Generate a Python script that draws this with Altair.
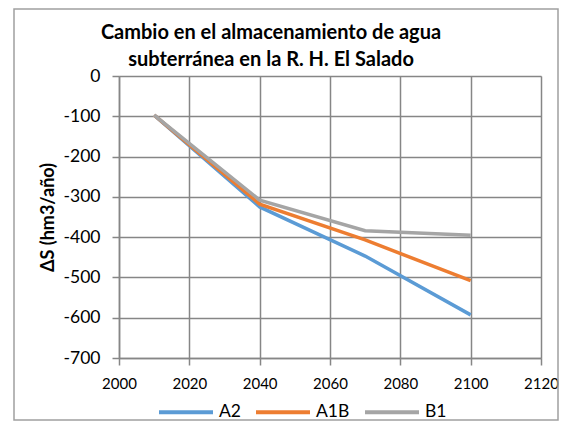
import altair as alt
import pandas as pd

years = [2010, 2040, 2070, 2100]
a2 = [-97, -325, -447, -593]
a1b = [-97, -318, -407, -508]
b1 = [-97, -308, -384, -395]
series = ["A2", "A1B", "B1"]
colors = ["#5B9BD5", "#ED7D31", "#A5A5A5"]

rows = []
for name, vals in zip(series, [a2, a1b, b1]):
    for y, v in zip(years, vals):
        rows.append({"year": y, "value": v, "serie": name})
df = pd.DataFrame(rows)

FONT = "Lato"
GRID = "#868686"

lines = alt.Chart(df).mark_line(strokeWidth=3.5, clip=False).encode(
    x=alt.X("year:Q", scale=alt.Scale(domain=[2000, 2120], nice=False),
            axis=alt.Axis(values=list(range(2000, 2121, 20)), title=None, format="d",
                          labelFlush=False, labelOverlap=False,
                          grid=True, gridColor=GRID, gridWidth=1.5,
                          domainColor=GRID, domainWidth=1.5, tickColor=GRID, tickWidth=1.5,
                          tickSize=7, labelPadding=11, labelFontSize=15, labelColor="#000",
                          labelFont=FONT)),
    y=alt.Y("value:Q", scale=alt.Scale(domain=[-700, 0], nice=False),
            axis=alt.Axis(values=list(range(-700, 1, 100)), title="ΔS (hm3/año)",
                          labelExpr="replace(datum.label, '\u2212', '-')",
                          labelFlush=False, labelOverlap=False,
                          grid=True, gridColor=GRID, gridWidth=1.5,
                          domainColor=GRID, domainWidth=1.5, tickColor=GRID, tickWidth=1.5,
                          tickSize=7, labelPadding=12, labelFontSize=17.5, labelColor="#000",
                          labelFont=FONT, titleFont=FONT, titleFontSize=18, titleFontWeight="bold",
                          titleColor="#000", titlePadding=6)),
    color=alt.Color("serie:N", sort=series,
                    scale=alt.Scale(domain=series, range=colors),
                    legend=alt.Legend(title=None, orient="none", legendX=38, legendY=307,
                                      direction="horizontal", symbolType="stroke",
                                      symbolSize=2916, symbolStrokeWidth=4,
                                      labelFont=FONT, labelFontSize=17.5, labelColor="#000",
                                      labelOffset=4, columnPadding=7, padding=0)),
)

frame = alt.Chart(pd.DataFrame({"k": [0]})).mark_rect(
    fillOpacity=0, stroke="#A0A0A0", strokeWidth=1.5, clip=False
).encode(x=alt.value(-105), x2=alt.value(439), y=alt.value(-67), y2=alt.value(344))

chart = alt.layer(frame, lines).properties(
    width=422, height=282,
    title=alt.TitleParams(
        text=["Cambio en el almacenamiento de agua", "subterránea en la R. H. El Salado"],
        anchor="middle", font=FONT, fontSize=20, fontWeight="bold", color="#000",
        lineHeight=27, dx=-59, offset=-62),
    padding={"left": 111, "top": 68, "right": 18, "bottom": 63},
    autosize=alt.AutoSizeParams(type="none"),
).configure_view(stroke=None).configure(background="white")

chart.save("out.html", embed_options={"renderer": "svg", "actions": False})
